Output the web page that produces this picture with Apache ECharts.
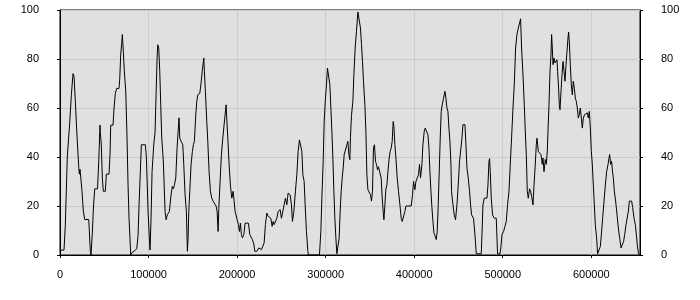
<!DOCTYPE html>
<html>
<head>
<meta charset="utf-8">
<script src="https://cdn.jsdelivr.net/npm/echarts@6/dist/echarts.min.js"></script>
<style>
html,body{margin:0;padding:0;background:#fff;}
#chart{width:700px;height:300px;}
</style>
</head>
<body>
<div id="chart"></div>
<script>
var xs = [
0,4520,5990,8250,10960,12770,14690,15820,17290,18870,21130,21810,22600,24070,24860,26330,27910,32430,33110,34240,
35030,35600,36500,37860,39210,42380,43730,45200,45540,46670,47800,48930,51190,52320,55370,56500,57290,59890,61020,62490,
64070,66670,67460,68590,69720,70400,71530,72660,74240,75710,76840,77970,79890,81360,83620,86670,88140,89270,90740,91870,
96390,97520,98310,99440,100910,101700,102830,103960,105880,107350,108480,109610,
110400,111530,112660,113790,114920,116730,118650,119780,121250,123510,125430,126900,128030,129160,130740,132210,133680,134470,135260,136730,
138650,139780,141250,142720,143850,144640,145430,146560,148030,149500,150630,151760,153340,154470,155600,157860,159330,160800,162380,163060,
164190,165770,166900,168370,169840,171420,172890,174360,176280,177410,178540,179330,180800,182270,183850,185320,186790,187580,188370,189500,
190970,192440,194020,195490,196620,197750,199670,201480,202610,203740,204870,206000,207580,209050,212780,214360,215830,217300,
218880,220010,222270,224530,226000,227470,229050,230520,231990,233570,235040,236510,238090,239560,240690,241820,243290,244870,246340,248600,
250070,251650,253120,254590,256170,257640,259900,261370,262500,264080,265890,267470,268940,270410,271540,273120,274250,275720,276850,278320,
279900,280580,293010,293460,294590,295720,297190,298320,299790,300920,302050,303630,304760,305890,307020,308150,309280,310410,311540,312670,
314140,315270,316400,317530,318660,319790,320920,322390,323970,325100,326230,327360,
328040,329170,330750,331880,333350,334820,336400,338210,339340,340470,341600,342730,344310,345440,346570,347700,349170,350640,351770,352900,
354030,355160,356290,357420,358550,359680,361260,362730,363860,364990,365780,366910,368040,369170,370300,371770,372900,374030,375160,376290,
377080,378210,379340,380810,382280,383860,385330,386460,387930,389510,390640,396630,398100,399230,400810,401940,403410,404880,406010,407140,
408720,409850,411320,412450,414370,415500,416630,417760,418890,420020,421150,422280,423750,424880,426010,427140,428270,429400,430530,431660,
433130,434710,435840,436970,438100,439230,
440360,441490,442170,443750,445220,446690,448270,449740,451210,452790,453920,455050,457310,458440,459570,461040,462510,463640,464770,467030,
468610,470080,475730,476520,477650,479120,482170,483300,484430,485110,485900,487030,488500,490420,492680,493470,494150,496860,497990,499120,
500930,502510,503980,505450,507030,508500,509970,511550,513020,514490,516070,517540,519010,520140,521270,522850,524320,525450,526580,527710,
528840,530310,531440,532570,534150,535280,536750,537880,538670,540140,541610,543190,544660,545450,546580,
548050,549180,550310,551100,552230,553360,554490,555170,555960,556750,557880,559010,560140,561270,561950,563080,563870,564660,565790,566920,
568050,569180,570310,571440,572570,573700,574380,575170,576300,577430,578560,579690,580820,581950,583080,584210,585340,586470,587600,588730,
589860,590990,592460,594040,595510,596640,597770,598900,600030,601160,602290,603420,604550,606020,607150,609070,610200,611330,612800,614380,
615850,617320,618900,620030,620710,621840,622970,623760,624890,626020,627490,629070,630540,632010,633590,635400,636530,637660,639240,640710,
641840,642970,645570,646700,648280,649750,651220,652300,653400,655000
];
var ys = [
2,2,12,40,54,65,74,73,63,51,36,33,35,35,26,18,14.5,14.5,10,1.5,
0,0,9,20,27,27,38,53,50,45,31.5,26,26,33,33,41,53,53,60,66,
68,68,72,82,86.5,90,83,75,67,47.7,28.7,15,0,1,1.5,2.5,8,20.5,34,45,
45,40,31,18,7,2,15,34,45,50,65,80,
85.8,84.5,75,61,47.7,38,17.8,14.4,16.4,17.8,24.6,28,27,28.5,31.4,43.7,51.8,56,47.7,46.4,
45,36.9,24.6,17.8,1.5,7,17.8,26,37,42.3,45,46.4,57.3,62.7,65.4,66,70.2,75.6,80.4,75,
66.8,54.5,46.4,34,26,23.2,22,21.3,20,17.8,9.6,19,30,41,47.7,53.2,54,61.3,55.5,47.7,
37,28.5,23.2,26,22,17.8,15,12.4,9.6,13,8.3,7,8.3,13,13,8.3,7.7,6.3,
4.5,1.5,1.5,2.9,3.5,2.2,2.9,4.9,12.4,17.1,15.8,15,15,11.7,13.7,12.4,12.4,15,17.8,18.5,
15,14.4,20.5,23.2,20.5,25.3,24.6,20.5,13.7,17.8,26,32.8,42.3,47,46.4,42.3,32.8,30,20.5,9.6,
1.5,0,0,0.5,9.6,23.2,38,54.5,64,69.5,76.3,75.6,69.5,60,50.5,39.6,26,15,7,0.5,
0.5,7,17.8,26,31.4,35.5,41,41.6,45,46.4,41,38.9,
48,57,62.7,73.6,84.5,91.3,99.2,99.2,92.6,86,79,70.9,61.3,50.5,32.8,26.7,26,24.6,22,26,
43.7,45,38.2,37,34.8,36,36,31.4,23.2,17.8,14.4,20.5,27,28.5,34,39.6,42.3,43.7,46.4,54.5,
52.5,45,39.6,31.4,26,20.5,15,13.7,13.7,17.8,20,20,24.6,30,26.7,30,31.4,32.8,37,31.4,
37,45,50.5,51.8,51.8,49,43.7,34,26,19.4,13.7,9,7.7,6.3,9.6,20.5,34,47.7,58.6,61.3,
64,66.8,64,60,58.6,51.8,
46.4,37,26,20.5,16.4,14.4,20.5,28.5,38.2,43.7,47.7,53.2,53.2,45,35.5,31.4,26,20.5,16.4,15,
8.3,0.5,0.5,8.3,20.5,23.2,23.2,28.5,38.2,39.3,34,23.2,16.4,15,15,7,0.5,0.5,3.5,8.3,
9.6,11.7,13.7,20.5,26,37,47.7,60,69.5,84.5,90,92.6,94.7,96.4,84.5,73.6,61.3,50.5,41,26,
23.2,27,26,24,20.5,28.5,37,45,47.7,42.3,41.6,41,37,39.6,34,
39,37,42.3,50.5,61.3,75,81.7,90,84.5,77.7,80.4,78.4,77.7,79.7,75,68.1,61.3,59.3,66.8,73.6,
79,75,70.9,77.7,83.2,88.6,91,87.2,77.7,69.5,65.4,70.9,68.1,64,62.7,60,55.9,57.3,60,55.9,
51.8,55.9,57.3,56.6,58,55.9,58.6,51.8,42.3,37,28.5,20.5,12.4,7,0.5,0.5,3.5,8.3,15,22,
28.5,34,37,39.6,41,37,38.2,34.8,31.4,26,22,16.4,11,7,2.9,2.2,5.6,8.3,12.4,12.4,
17.8,22,22,19.4,15,12.4,7,2.9,0.5,0
];
var xMin = 0, xMax = 655000, xStep = 100000;
var yMin = 0, yMax = 100, yStep = 20;

var chart = echarts.init(document.getElementById('chart'), null, {renderer:'canvas'});
var lbl = {color:'#000', fontFamily:'Liberation Sans, Arial, sans-serif', fontSize:11};
function plain(v){ return String(v); }
function yAx(pos, split){
  return {
    type:'value', position:pos, min:yMin, max:yMax, interval:yStep,
    axisLine:{show:true, lineStyle:{color:'#000', width:1}},
    axisTick:{show:true, length:3, lineStyle:{color:'#000'}},
    axisLabel:Object.assign({margin:21, formatter:plain}, lbl),
    splitLine:{show:split, lineStyle:{color:'#cccccc', width:1}}
  };
}
var data = xs.map(function(x,i){return [x, ys[i]];});
chart.setOption({
  animation:false,
  grid:{left:60, right:60, top:10, bottom:45, show:true, backgroundColor:'#e0e0e0', borderColor:'#000', borderWidth:1},
  xAxis:{
    type:'value', min:xMin, max:xMax, interval:xStep,
    axisLine:{show:true, onZero:false, lineStyle:{color:'#000', width:1}},
    axisTick:{show:true, length:3, lineStyle:{color:'#000'}},
    axisLabel:Object.assign({margin:14, showMaxLabel:false, hideOverlap:false, formatter:plain}, lbl),
    splitLine:{show:true, lineStyle:{color:'#cccccc', width:1}}
  },
  yAxis:[yAx('left', true), yAx('right', false)],
  series:[{
    type:'line', data:data, yAxisIndex:0, showSymbol:false, symbol:'none',
    lineStyle:{color:'#000', width:1}, smooth:false, silent:true
  }]
});
</script>
</body>
</html>
